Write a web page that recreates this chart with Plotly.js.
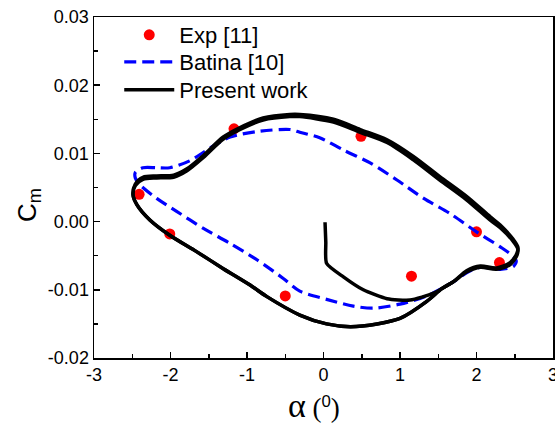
<!DOCTYPE html>
<html>
<head>
<meta charset="utf-8">
<script src="https://cdn.plot.ly/plotly-3.0.1.min.js"></script>
<style>html,body{margin:0;padding:0;background:#fff;}</style>
</head>
<body>
<div id="chart" style="width:555px;height:423px;"></div>
<script>
// Experimental data
const expX = [-2.41, -2.01, -1.17, -0.50, 0.49, 1.15, 2.00, 2.30];
const expY = [0.0040, -0.0018, 0.0136, -0.0109, 0.0125, -0.0080, -0.0015, -0.0060];

// Batina [10]
const batinaX = [-2.46, -2.36, -2.18, -2.01, -1.75, -1.48, -1.22, -0.87, -0.44, -0.31, -0.05, 0.26, 0.61, 0.96, 1.31, 1.65, 2.00, 2.31, 2.48, 2.52, 2.48, 2.31, 2.05, 1.87, 1.70, 1.35, 1.00, 0.65, 0.39, 0.04, -0.31, -0.53, -0.87, -1.22, -1.57, -1.92, -2.18, -2.40, -2.46, -2.46];
const batinaY = [0.0072, 0.0079, 0.0079, 0.0079, 0.0089, 0.0108, 0.0124, 0.0132, 0.0135, 0.0131, 0.0123, 0.0105, 0.0086, 0.0061, 0.0034, 0.0012, -0.0015, -0.0037, -0.0051, -0.0058, -0.0066, -0.0070, -0.0067, -0.0075, -0.0088, -0.0109, -0.0121, -0.0127, -0.0124, -0.0114, -0.0102, -0.0083, -0.0056, -0.0032, -0.0010, 0.0015, 0.0034, 0.0054, 0.0064, 0.0072];

// Present work: start-up transient
const transX = [0.02, 0.03, 0.04, 0.26, 0.52, 0.83, 1.13, 1.44, 1.70];
const transY = [-0.0001, -0.0030, -0.0061, -0.0081, -0.0100, -0.0113, -0.0115, -0.0105, -0.0088];

// Present work: periodic cycles
const cycleX = [1.70, 1.87, 2.05, 2.26, 2.44, 2.53, 2.54, 2.48, 2.31, 2.18, 1.87, 1.52, 1.17, 0.83, 0.48, 0.13, -0.31, -0.44, -0.79, -1.09, -1.31, -1.57, -1.79, -1.96, -2.18, -2.36, -2.46, -2.49, -2.44, -2.27, -2.01, -1.66, -1.31, -0.96, -0.74, -0.31, 0.04, 0.35, 0.70, 1.00, 1.35, 1.55, 1.70];
const cycle1Y = [-0.0088, -0.0074, -0.0067, -0.0070, -0.0063, -0.0049, -0.0040, -0.0029, -0.0009, 0.0002, 0.0032, 0.0061, 0.0091, 0.0116, 0.0131, 0.0146, 0.0154, 0.0154, 0.0149, 0.0135, 0.0121, 0.0094, 0.0074, 0.0065, 0.0064, 0.0062, 0.0053, 0.0039, 0.0025, 0.00025, -0.0020, -0.0044, -0.0069, -0.0093, -0.0110, -0.0137, -0.0150, -0.0154, -0.0150, -0.0142, -0.0117, -0.0098, -0.0088];
const cycle2Y = [-0.0088, -0.0072, -0.0065, -0.0068, -0.0060, -0.0046, -0.0037, -0.0026, -0.0005, 0.0007, 0.0037, 0.0066, 0.0096, 0.0120, 0.0135, 0.0150, 0.0157, 0.0157, 0.0152, 0.0138, 0.0124, 0.0097, 0.0077, 0.0068, 0.0067, 0.0065, 0.0055, 0.0040, 0.0025, 0.00025, -0.0020, -0.0044, -0.0069, -0.0093, -0.0110, -0.0137, -0.0150, -0.0154, -0.0150, -0.0142, -0.0117, -0.0098, -0.0088];

// Tick labels
const xTicks = [-3, -2, -1, 0, 1, 2, 3];
const xTickLabels = ["-3", "-2", "-1", "0", "1", "2", "3"];
const yTicks = [-0.02, -0.01, 0.00, 0.01, 0.02, 0.03];
const yTickLabels = ["-0.02", "-0.01", "0.00", "0.01", "0.02", "0.03"];

const FONT = "Arial, 'Liberation Sans', sans-serif";
const SERIF = "'Liberation Serif', 'Times New Roman', serif";

const traces = [
  {x: expX, y: expY, type: 'scatter', mode: 'markers', name: 'Exp [11]', legend: 'legend',
   marker: {color: '#ff0000', size: 11}},
  {x: batinaX, y: batinaY, type: 'scatter', mode: 'lines', name: 'Batina [10]', legend: 'legend2',
   line: {color: '#0000ff', width: 3.2, dash: '12px,6px', shape: 'spline', smoothing: 0.8}},
  {x: transX, y: transY, type: 'scatter', mode: 'lines', name: 'Present work', legend: 'legend3', legendgroup: 'pw',
   line: {color: '#000000', width: 3.5, shape: 'spline', smoothing: 0.6}},
  {x: cycleX, y: cycle1Y, type: 'scatter', mode: 'lines', name: 'Present work', legend: 'legend3', legendgroup: 'pw', showlegend: false,
   line: {color: '#000000', width: 3.5, shape: 'spline', smoothing: 0.8}},
  {x: cycleX, y: cycle2Y, type: 'scatter', mode: 'lines', name: 'Present work', legend: 'legend3', legendgroup: 'pw', showlegend: false,
   line: {color: '#000000', width: 3.5, shape: 'spline', smoothing: 0.8}}
];

const axisCommon = {
  showline: true, linecolor: '#000', linewidth: 1.5, mirror: true,
  ticks: 'inside', ticklen: 6, tickwidth: 1.5, tickcolor: '#000',
  showgrid: false, zeroline: false, tickmode: 'array', ticklabeloverflow: 'allow',
  tickfont: {family: FONT, size: 18, color: '#000'}
};

function legendAt(y) {
  return {x: 0.055, y: y, xanchor: 'left', yanchor: 'middle', bgcolor: 'rgba(0,0,0,0)',
          font: {family: FONT, size: 22, color: '#000'}, itemwidth: 50};
}

const layout = {
  width: 555, height: 423,
  margin: {l: 94, r: 2, t: 17, b: 65},
  paper_bgcolor: '#fff', plot_bgcolor: '#fff',
  showlegend: true,
  legend: legendAt(0.947),
  legend2: legendAt(0.868),
  legend3: legendAt(0.786),
  xaxis: Object.assign({}, axisCommon, {
    range: [-3, 3], tickvals: xTicks, ticktext: xTickLabels,
    minor: {tickmode: 'linear', tick0: -3, dtick: 0.5, ticks: 'inside', ticklen: 4, tickwidth: 1.5, tickcolor: '#000', showgrid: false}
  }),
  yaxis: Object.assign({}, axisCommon, {
    range: [-0.02, 0.03], tickvals: yTicks, ticktext: yTickLabels,
    minor: {tickmode: 'linear', tick0: -0.02, dtick: 0.005, ticks: 'inside', ticklen: 4, tickwidth: 1.5, tickcolor: '#000', showgrid: false}
  }),
  annotations: [
    {xref: 'paper', yref: 'paper', x: 0.479, y: -0.138, xanchor: 'center', yanchor: 'middle', showarrow: false,
     text: '<span style="font-family:' + SERIF + ';font-size:34px">α</span> <span style="font-family:' + SERIF + ';font-size:27px">(</span><sup>0</sup><span style="font-family:' + SERIF + ';font-size:27px">)</span>',
     font: {family: FONT, size: 24, color: '#000'}},
    {xref: 'paper', yref: 'paper', x: -0.143, y: 0.45, xanchor: 'center', yanchor: 'middle', showarrow: false,
     textangle: -90, text: 'C<sub>m</sub>', font: {family: FONT, size: 26, color: '#000'}}
  ]
};

Plotly.newPlot('chart', traces, layout, {displayModeBar: false, staticPlot: true});
</script>
</body>
</html>
